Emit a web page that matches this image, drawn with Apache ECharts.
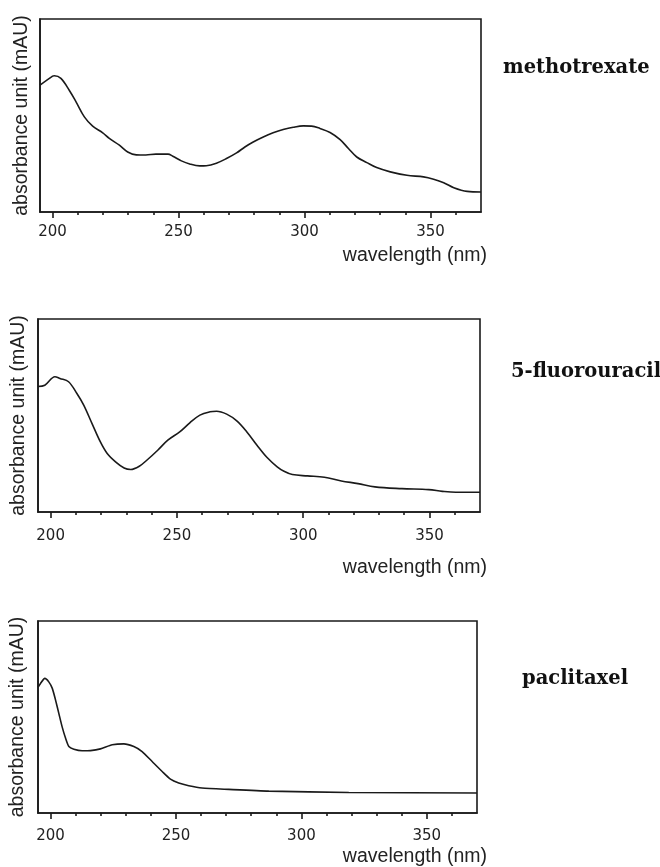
<!DOCTYPE html>
<html>
<head>
<meta charset="utf-8">
<script src="https://cdn.jsdelivr.net/npm/echarts@6/dist/echarts.min.js"></script>
<style>
html,body{margin:0;padding:0;background:#fff;}
#chart{width:660px;height:867px;}
</style>
</head>
<body>
<div id="chart"></div>
<script>
// ---- data ----
const drugNames = ['methotrexate', '5-fluorouracil', 'paclitaxel'];
const majorTicks = [200, 250, 300, 350];
const minorTicks = [210, 220, 230, 240, 260, 270, 280, 290, 310, 320, 330, 340, 360];
const xAxisName = 'wavelength (nm)';
const yAxisName = 'absorbance unit (mAU)';

const mtxWl  = [195,200,200.7,203.3,206.6,209.3,212.6,215.9,219.9,222.5,226.5,229.8,233.2,237,241,245.8,247.7,251.1,254.4,258.4,261,265,269,273,276.3,279.6,283.6,287.5,291.5,295.5,299.5,302.8,306.1,310.1,314.1,317.4,320.7,324.7,328.6,334,340.6,347.2,351.2,355.2,359.2,364.5,370];
const mtxAbs = [65.7,70.4,70.6,69.2,63.1,57.1,49.3,44.5,41.0,38.1,34.6,31.1,29.6,29.5,30.0,30.0,28.9,26.5,24.9,23.9,24.0,25.3,27.7,30.6,33.7,36.3,38.9,41.0,42.7,43.9,44.6,44.5,43.3,41.2,37.5,32.9,28.5,25.6,23.0,20.8,19.0,18.2,17.0,15.2,12.6,10.7,10.4];

const fuWl  = [195,197.7,201.7,203.7,207.1,210.4,213.1,216.4,219.7,222.4,225.7,229.1,231.7,235.1,238.4,242.4,246.4,251.1,255.1,259.1,263.1,265.7,269.7,273.7,277.7,281.7,285.7,289.7,292.4,295.7,301.7,308.4,315.1,321.7,328.4,339.1,349.7,355.1,360.4,370];
const fuAbs = [65.0,65.7,70.1,69.2,67.5,61.4,55.4,45.8,36.3,30.3,26.0,22.8,22.0,23.7,27.2,32.0,37.2,41.5,46.2,50.2,51.9,52.2,50.7,47.2,41.5,34.6,28.2,23.4,21.1,19.4,18.7,18.0,16.1,14.7,13.0,12.1,11.6,10.7,10.2,10.2];

const ptxWl  = [195,196,197.7,199.3,200.7,202,203.3,204.6,206,207.3,209.3,212.6,215.9,219.9,224.6,229.2,233.2,236.5,240.5,244.5,247.8,251.1,255.1,260.4,271,287,318.9,370];
const ptxAbs = [65.4,67.5,70.1,68.3,64.9,58.8,51.9,45.0,38.9,34.6,33.2,32.4,32.5,33.4,35.5,36.0,34.6,32.0,26.8,21.6,17.6,15.6,14.2,13.0,12.3,11.4,10.7,10.4];

// ---- layout ----
const panels = [
  {wl: mtxWl, abs: mtxAbs, grid: {left: 40, top: 19, width: 441, height: 193}, labelMargin: 13, nameGap: 8,
   smooth: 0.35, xName: {x: 487, y: 256}, title: {x: 503, y: 68}},
  {wl: fuWl, abs: fuAbs, grid: {left: 38, top: 319, width: 442, height: 193}, labelMargin: 17, nameGap: 9,
   smooth: 0.35, xName: {x: 487, y: 568}, title: {x: 511, y: 372}},
  {wl: ptxWl, abs: ptxAbs, grid: {left: 35, top: 621, width: 442, height: 192}, labelMargin: 16, nameGap: 10,
   smooth: 0.2, xName: {x: 487, y: 857}, title: {x: 522, y: 679}}
];

const ink = '#1a1a1a';
const grids = [], xAxes = [], yAxes = [], series = [], graphics = [];
panels.forEach((p, i) => {
  grids.push(Object.assign({show: true, borderColor: ink, borderWidth: 1.6, backgroundColor: '#fff'}, p.grid));
  xAxes.push({
    type: 'value', gridIndex: i, min: 195, max: 370, position: 'bottom',
    splitLine: {show: false},
    axisLine: {show: true, lineStyle: {color: ink, width: 1.6}},
    axisTick: {show: true, inside: false, length: 6, customValues: majorTicks, lineStyle: {color: ink, width: 1.6}},
    axisLabel: {show: true, customValues: majorTicks, margin: p.labelMargin, color: '#222',
                fontFamily: 'DejaVu Sans', fontSize: 15}
  });
  xAxes.push({
    type: 'value', gridIndex: i, min: 195, max: 370, position: 'bottom',
    splitLine: {show: false},
    axisLine: {show: false},
    axisTick: {show: true, inside: false, length: 3, customValues: minorTicks, lineStyle: {color: ink, width: 1.6}},
    axisLabel: {show: false}
  });
  yAxes.push({
    type: 'value', gridIndex: i, min: 0, max: 100,
    splitLine: {show: false},
    axisLine: {show: true, lineStyle: {color: ink, width: 1.6}},
    axisTick: {show: false}, axisLabel: {show: false},
    name: yAxisName, nameLocation: 'middle', nameGap: p.nameGap,
    nameTextStyle: {color: '#222', fontFamily: 'Liberation Sans', fontSize: 19.5}
  });
  series.push({
    type: 'line', xAxisIndex: i * 2, yAxisIndex: i,
    data: p.wl.map((w, k) => [w, p.abs[k]]),
    showSymbol: false, smooth: p.smooth,
    lineStyle: {color: ink, width: 1.6},
    silent: true, animation: false
  });
  graphics.push({
    type: 'text', x: p.xName.x, y: p.xName.y,
    style: {text: xAxisName, fill: '#222', font: '19.5px "Liberation Sans"', textAlign: 'right', textVerticalAlign: 'middle'}
  });
  graphics.push({
    type: 'text', x: p.title.x, y: p.title.y,
    style: {text: drugNames[i], fill: '#111', font: 'bold 19.5px "DejaVu Serif"', textAlign: 'left', textVerticalAlign: 'middle'}
  });
});

const chart = echarts.init(document.getElementById('chart'), null, {renderer: 'canvas'});
chart.setOption({
  animation: false,
  backgroundColor: '#fff',
  grid: grids, xAxis: xAxes, yAxis: yAxes, series: series, graphic: graphics
});
</script>
</body>
</html>
